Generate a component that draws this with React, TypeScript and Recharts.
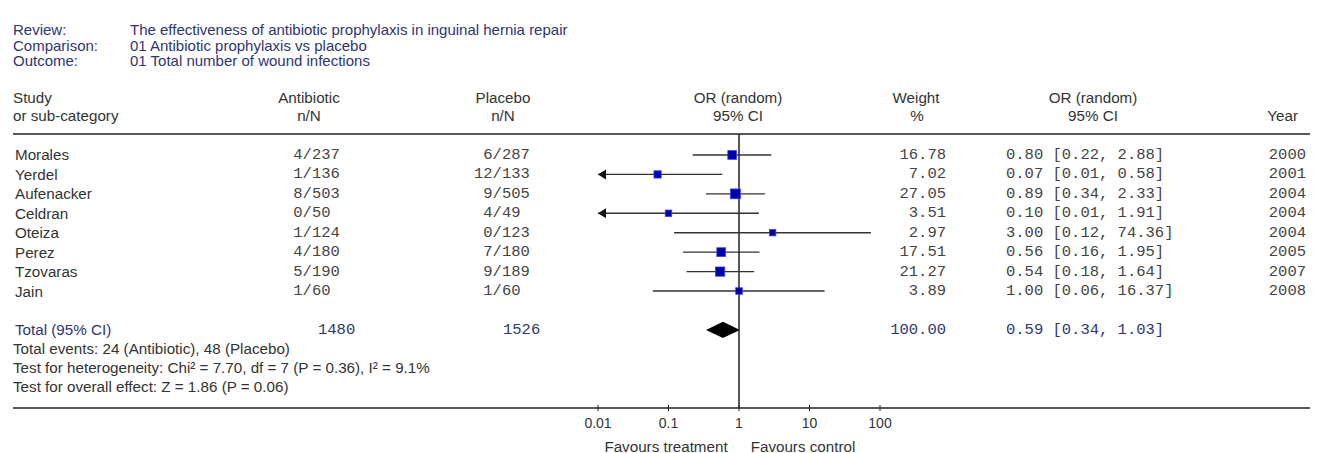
import React from "react";
import { ComposedChart, Scatter, XAxis, YAxis, ReferenceLine, ReferenceArea } from "recharts";

// study rows
const studies = ["Morales", "Yerdel", "Aufenacker", "Celdran", "Oteiza", "Perez", "Tzovaras", "Jain"];
const abxEvents = [4, 1, 8, 0, 1, 4, 5, 1];
const abxTotal = [237, 136, 503, 50, 124, 180, 190, 60];
const plcEvents = [6, 12, 9, 4, 0, 7, 9, 1];
const plcTotal = [287, 133, 505, 49, 123, 180, 189, 60];
const oddsRatio = [0.8, 0.07, 0.89, 0.1, 3.0, 0.56, 0.54, 1.0];
const ciLow = [0.22, 0.01, 0.34, 0.01, 0.12, 0.16, 0.18, 0.06];
const ciHigh = [2.88, 0.58, 2.33, 1.91, 74.36, 1.95, 1.64, 16.37];
const weights = [16.78, 7.02, 27.05, 3.51, 2.97, 17.51, 21.27, 3.89];
const years = [2000, 2001, 2004, 2004, 2004, 2005, 2007, 2008];

// pooled result
const totalRow = 9;
const totalAbx = 1480;
const totalPlc = 1526;
const totalOR = 0.59;
const totalLow = 0.34;
const totalHigh = 1.03;
const totalWeight = 100;

const xTicks = [0.01, 0.1, 1, 10, 100];
const xTickLabels = ["0.01", "0.1", "1", "10", "100"];
const X_MIN = 0.01;
const X_MAX = 100;

const footerLines = [
  "Total events: 24 (Antibiotic), 48 (Placebo)",
  "Test for heterogeneity: Chi\u00b2 = 7.70, df = 7 (P = 0.36), I\u00b2 = 9.1%",
  "Test for overall effect: Z = 1.86 (P = 0.06)",
];

const SANS = "'Liberation Sans', Arial, sans-serif";
const MONO = "'Liberation Mono', 'Courier New', monospace";
const TXT = "#333";
const NAVY = "#2f3572";
const SANS_SIZE = 15.2;

const fmt2 = (v: number) => v.toFixed(2);
const nN = (n: number, N: number) => `${String(n).padStart(2, " ")}/${N}`;

const rows = studies.map((name, i) => ({
  name,
  x: oddsRatio[i],
  y: i,
  w: weights[i],
  abx: nN(abxEvents[i], abxTotal[i]),
  plc: nN(plcEvents[i], plcTotal[i]),
  weight: fmt2(weights[i]),
  ci: `${fmt2(oddsRatio[i])} [${fmt2(ciLow[i])}, ${fmt2(ciHigh[i])}]`,
  year: String(years[i]),
}));

const arrows = rows.filter((_, i) => ciLow[i] <= X_MIN).map((r) => ({ x: X_MIN, y: r.y }));

const totals = [
  {
    x: totalOR,
    y: totalRow,
    name: "Total (95% CI)",
    abx: String(totalAbx),
    plc: String(totalPlc),
    weight: fmt2(totalWeight),
    ci: `${fmt2(totalOR)} [${fmt2(totalLow)}, ${fmt2(totalHigh)}]`,
  },
];

const Square = (props: any) => {
  const { cx, cy, payload } = props;
  const s = 4.6 + Math.sqrt(payload.w);
  return <rect x={cx - s / 2} y={cy - s / 2} width={s} height={s} fill="#0000a6" stroke="#3b3bff" strokeWidth={0.8} />;
};

const Arrow = (props: any) => {
  const { cx, cy } = props;
  return <polygon points={`${cx},${cy} ${cx + 8},${cy - 5} ${cx + 8},${cy + 5}`} fill="#111" />;
};

const RowText = (props: any) => {
  const { cy, payload } = props;
  return (
    <g fontFamily={MONO} fontSize={15.5} fill="#444">
      <text x={15} y={cy} dominantBaseline="central" fontFamily={SANS} fontSize={SANS_SIZE} fill={TXT}>{payload.name}</text>
      <text x={284} y={cy} dominantBaseline="central" xmlSpace="preserve">{payload.abx}</text>
      <text x={474} y={cy} dominantBaseline="central" xmlSpace="preserve">{payload.plc}</text>
      <text x={946} y={cy} dominantBaseline="central" textAnchor="end">{payload.weight}</text>
      <text x={1006} y={cy} dominantBaseline="central">{payload.ci}</text>
      <text x={1306} y={cy} dominantBaseline="central" textAnchor="end">{payload.year}</text>
    </g>
  );
};

const TotalText = (props: any) => {
  const { cy, payload } = props;
  return (
    <g fontFamily={MONO} fontSize={15.5} fill={NAVY}>
      <text x={15} y={cy} dominantBaseline="central" fontFamily={SANS} fontSize={SANS_SIZE}>{payload.name}</text>
      <text x={318} y={cy} dominantBaseline="central">{payload.abx}</text>
      <text x={503} y={cy} dominantBaseline="central">{payload.plc}</text>
      <text x={946} y={cy} dominantBaseline="central" textAnchor="end">{payload.weight}</text>
      <text x={1006} y={cy} dominantBaseline="central">{payload.ci}</text>
    </g>
  );
};

const Diamond = (props: any) => {
  const { x, y, width, height } = props;
  const mx = x + width / 2;
  const my = y + height / 2;
  return <polygon points={`${x},${my} ${mx},${y} ${x + width},${my} ${mx},${y + height}`} fill="#000" />;
};

const AxisTick = (props: any) => {
  const { x, y, payload, index } = props;
  return (
    <g>
      <line x1={x} x2={x} y1={y - 3} y2={y + 3} stroke="#222" />
      <text x={x} y={y + 15} textAnchor="middle" dominantBaseline="central" fontFamily={SANS} fontSize={14} fill={TXT}>
        {xTickLabels[index] ?? payload.value}
      </text>
    </g>
  );
};

export default function App() {
  const head = { fontFamily: SANS, fontSize: SANS_SIZE, fill: TXT };
  return (
    <div style={{ position: "absolute", left: 0, top: 0, width: 1320, height: 453, background: "#fff" }}>
      <ComposedChart width={1320} height={453} margin={{ top: 134, right: 440, bottom: 15, left: 598 }}>
        <XAxis
          dataKey="x"
          type="number"
          scale="log"
          domain={[X_MIN, X_MAX]}
          ticks={xTicks}
          interval={0}
          height={30}
          tickLine={false}
          axisLine={false}
          tickSize={0}
          tickMargin={0}
          tick={<AxisTick />}
        />
        <YAxis dataKey="y" type="number" domain={[-1.08, 13.02]} reversed hide />
        <ReferenceLine x={1} stroke="#222" strokeWidth={1.5} />
        {rows.map((r, i) => (
          <ReferenceLine
            key={r.name}
            segment={[
              { x: ciLow[i], y: r.y },
              { x: Math.min(ciHigh[i], X_MAX), y: r.y },
            ]}
            stroke="#333"
            strokeWidth={1.4}
          />
        ))}
        <ReferenceArea
          x1={totalLow}
          x2={totalHigh}
          y1={totalRow - 0.42}
          y2={totalRow + 0.42}
          shape={<Diamond />}
        />
        <Scatter data={arrows} shape={<Arrow />} isAnimationActive={false} />
        <Scatter data={rows} shape={<Square />} isAnimationActive={false} />
        <Scatter data={rows} shape={<RowText />} isAnimationActive={false} />
        <Scatter data={totals} shape={<TotalText />} isAnimationActive={false} />
      </ComposedChart>
      <svg width={1320} height={453} style={{ position: "absolute", left: 0, top: 0, pointerEvents: "none" }}>
        <g fontFamily={SANS} fontSize={15} fill={NAVY}>
          <text x={13} y={29} dominantBaseline="central">Review:</text>
          <text x={130} y={29} dominantBaseline="central">The effectiveness of antibiotic prophylaxis in inguinal hernia repair</text>
          <text x={13} y={45} dominantBaseline="central">Comparison:</text>
          <text x={130} y={45} dominantBaseline="central">01 Antibiotic prophylaxis vs placebo</text>
          <text x={13} y={60} dominantBaseline="central">Outcome:</text>
          <text x={130} y={60} dominantBaseline="central">01 Total number of wound infections</text>
        </g>
        <g {...head} dominantBaseline="central">
          <text x={13} y={97}>Study</text>
          <text x={13} y={115}>or sub-category</text>
          <text x={309} y={97} textAnchor="middle">Antibiotic</text>
          <text x={309} y={115} textAnchor="middle">n/N</text>
          <text x={503} y={97} textAnchor="middle">Placebo</text>
          <text x={503} y={115} textAnchor="middle">n/N</text>
          <text x={738} y={97} textAnchor="middle">OR (random)</text>
          <text x={738} y={115} textAnchor="middle">95% CI</text>
          <text x={916} y={97} textAnchor="middle">Weight</text>
          <text x={917} y={115} textAnchor="middle">%</text>
          <text x={1093} y={97} textAnchor="middle">OR (random)</text>
          <text x={1093} y={115} textAnchor="middle">95% CI</text>
          <text x={1298} y={115} textAnchor="end">Year</text>
        </g>
        <line x1={13} x2={1310} y1={134} y2={134} stroke="#222" strokeWidth={1.5} />
        <line x1={13} x2={1310} y1={408} y2={408} stroke="#222" strokeWidth={1.5} />
        <g {...head} dominantBaseline="central">
          {footerLines.map((t, i) => (
            <text key={t} x={13} y={348 + i * 19}>{t}</text>
          ))}
          <text x={666} y={446} textAnchor="middle">Favours treatment</text>
          <text x={803} y={446} textAnchor="middle">Favours control</text>
        </g>
      </svg>
    </div>
  );
}
